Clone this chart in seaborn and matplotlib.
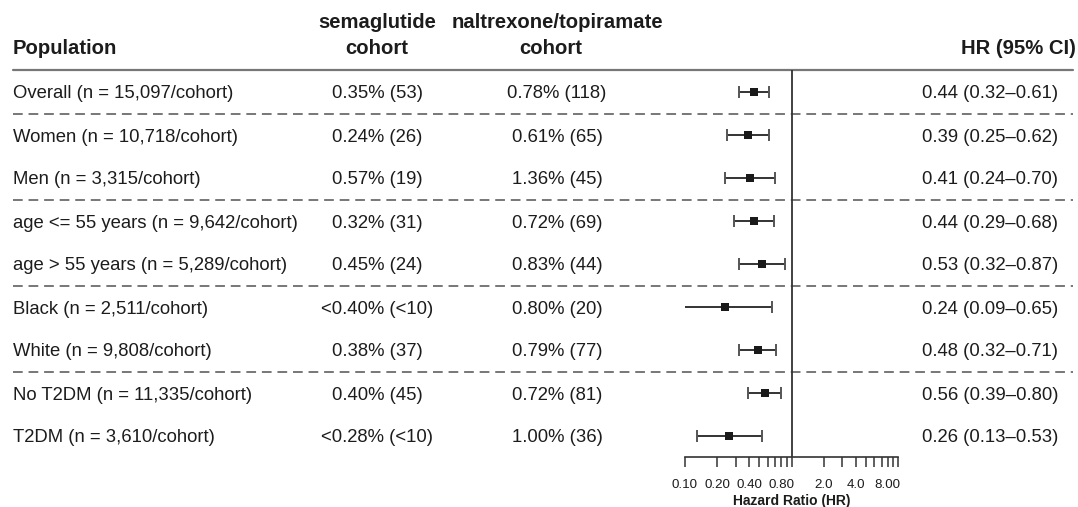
import numpy as np
import matplotlib
matplotlib.use('Agg')
import matplotlib.pyplot as plt
import seaborn as sns

# ── Data ──────────────────────────────────────────────────────────────────────
populations = ['Overall (n = 15,097/cohort)', 'Women (n = 10,718/cohort)',
               'Men (n = 3,315/cohort)', 'age <= 55 years (n = 9,642/cohort)',
               'age > 55 years (n = 5,289/cohort)', 'Black (n = 2,511/cohort)',
               'White (n = 9,808/cohort)', 'No T2DM (n = 11,335/cohort)',
               'T2DM (n = 3,610/cohort)']
sema = ['0.35% (53)', '0.24% (26)', '0.57% (19)', '0.32% (31)', '0.45% (24)',
        '<0.40% (<10)', '0.38% (37)', '0.40% (45)', '<0.28% (<10)']
naltr = ['0.78% (118)', '0.61% (65)', '1.36% (45)', '0.72% (69)', '0.83% (44)',
         '0.80% (20)', '0.79% (77)', '0.72% (81)', '1.00% (36)']
hr = [0.44, 0.39, 0.41, 0.44, 0.53, 0.24, 0.48, 0.56, 0.26]
lo = [0.32, 0.25, 0.24, 0.29, 0.32, 0.09, 0.32, 0.39, 0.13]
hi = [0.61, 0.62, 0.70, 0.68, 0.87, 0.65, 0.71, 0.80, 0.53]
group_breaks = [1, 3, 5, 7]  # dashed line drawn before these rows

tick_vals = [0.1, 0.2, 0.3, 0.4, 0.5, 0.6, 0.7, 0.8, 0.9, 1,
             2, 3, 4, 5, 6, 7, 8, 9, 10]
tick_text = {0.1: '0.10', 0.2: '0.20', 0.4: '0.40', 0.8: '0.80',
             2: '2.0', 4: '4.0', 8: '8.00'}

# ── Layout (pixel coords) ─────────────────────────────────────────────────────
sns.set_theme(style='white')
plt.rcParams['font.family'] = ['Liberation Sans', 'DejaVu Sans']
W, H = 1078, 507
fig = plt.figure(figsize=(W / 100, H / 100), dpi=100)
bg = fig.add_axes([0, 0, 1, 1])
bg.set_xlim(0, W)
bg.set_ylim(H, 0)
bg.axis('off')

txt = '#1c1c1c'
hfs, bfs = 14.6, 13.3
row0, step = 92, 43
rows = [row0 + step * i for i in range(len(populations))]
top_rule, axis_y = 70, 457

# header
bg.text(13, 49, 'Population', fontsize=hfs, fontweight='bold', color=txt, va='center')
bg.text(377, 22, 'semaglutide', fontsize=hfs, fontweight='bold', color=txt, ha='center', va='center')
bg.text(377, 49, 'cohort', fontsize=hfs, fontweight='bold', color=txt, ha='center', va='center')
bg.text(557, 22, 'naltrexone/topiramate', fontsize=hfs, fontweight='bold', color=txt, ha='center', va='center')
bg.text(551, 49, 'cohort', fontsize=hfs, fontweight='bold', color=txt, ha='center', va='center')
bg.text(1076, 49, 'HR (95% CI)', fontsize=hfs, fontweight='bold', color=txt, ha='right', va='center')
bg.plot([13, 1073], [top_rule, top_rule], color='#777777', lw=1.6)

for i, y in enumerate(rows):
    ty = y + 2
    bg.text(13, ty, populations[i], fontsize=bfs, color=txt, va='center')
    bg.text(377, ty, sema[i], fontsize=bfs, color=txt, ha='center', va='center')
    bg.text(557, ty, naltr[i], fontsize=bfs, color=txt, ha='center', va='center')
    bg.text(1058, ty, f'{hr[i]:.2f} ({lo[i]:.2f}\u2013{hi[i]:.2f})',
            fontsize=bfs, color=txt, ha='right', va='center')

for b in group_breaks:
    yy = (rows[b - 1] + rows[b]) / 2
    bg.plot([13, 1073], [yy, yy], color='#777777', lw=1.4, ls=(0, (5, 3)))

# ── Forest panel ──────────────────────────────────────────────────────────────
x0, x1 = 685, 898
ax = fig.add_axes([x0 / W, 1 - axis_y / H, (x1 - x0) / W, (axis_y - top_rule) / H])
ax.patch.set_alpha(0)
ax.set_xscale('log')
ax.set_xlim(0.1, 10)
ax.set_ylim(axis_y, top_rule)
for s in ['top', 'left', 'right']:
    ax.spines[s].set_visible(False)
ax.spines['bottom'].set_color('#333333')
ax.spines['bottom'].set_linewidth(1.2)
ax.axvline(1, color='#333333', lw=1.3)

ax.hlines(rows, lo, hi, color='#111111', lw=1.2)
ax.vlines(lo, np.array(rows) - 6, np.array(rows) + 6, color='#555555', lw=1.4)
ax.vlines(hi, np.array(rows) - 6, np.array(rows) + 6, color='#555555', lw=1.4)
sns.scatterplot(x=hr, y=rows, marker='s', s=38, color='#1a1a1a',
                edgecolor='#1a1a1a', linewidth=0, ax=ax, zorder=3)

ax.xaxis.set_major_locator(matplotlib.ticker.FixedLocator(tick_vals))
ax.xaxis.set_minor_locator(matplotlib.ticker.NullLocator())
ax.set_xticklabels([tick_text.get(v, '') for v in tick_vals])
ax.set_yticks([])
ax.tick_params(axis='x', bottom=True, direction='out', length=7, width=1.1,
               color='#333333', labelsize=9.6, labelcolor=txt, pad=9)
ax.set_xlabel('Hazard Ratio (HR)', fontsize=10, fontweight='bold', color=txt, labelpad=2)

fig.savefig('out.png', dpi=100)
